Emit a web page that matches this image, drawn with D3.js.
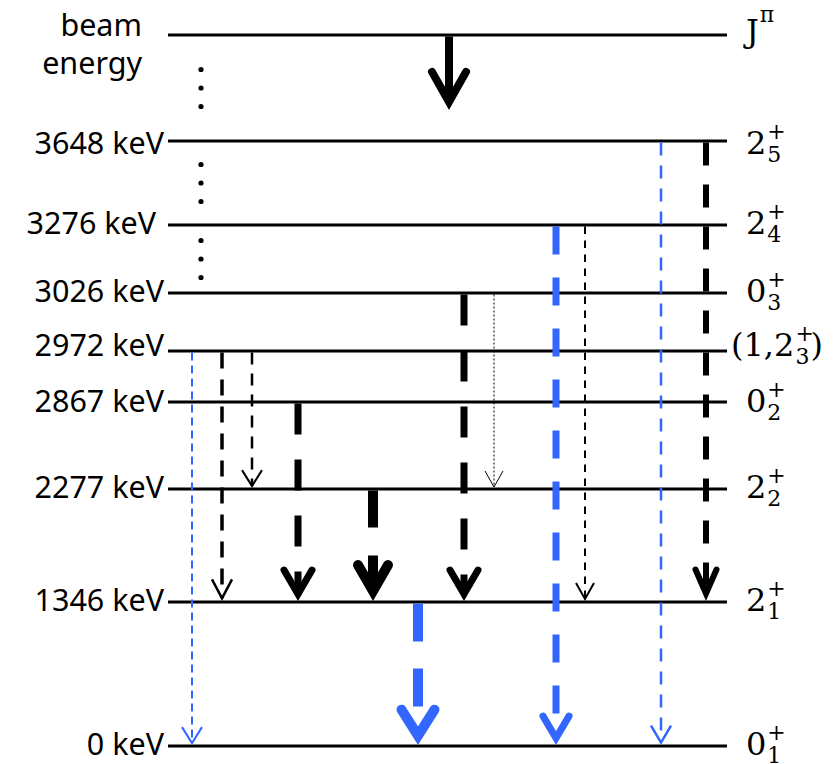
<!DOCTYPE html>
<html>
<head>
<meta charset="utf-8">
<script src="https://cdn.jsdelivr.net/npm/d3@7"></script>
<style>
  html, body { margin: 0; padding: 0; background: #fff; }
  svg { display: block; }
</style>
</head>
<body>
<svg id="chart" width="834" height="764"></svg>
<script>
// ---------------- DATA ----------------
// Levels (top to bottom)
const levelIds    = ["beam", "3648", "3276", "3026", "2972", "2867", "2277", "1346", "0"];
const levelLabels = ["", "3648 keV", "3276 keV\u00a0", "3026 keV", "2972 keV", "2867 keV", "2277 keV", "1346 keV", "0 keV"];
const beamLabel   = ["beam", "energy"];
// Spin-parity labels: prefix+J, superscript, subscript, suffix
const spinMain = ["J", "2", "2", "0", "(1,2", "0", "2", "2", "0"];
const spinSup  = ["\u03c0", "+", "+", "+", "+", "+", "+", "+", "+"];
const spinSub  = ["", "5", "4", "3", "3", "2", "2", "1", "1"];
const spinPost = ["", "", "", "", ")", "", "", "", ""];
// Gaps filled with continuation dots (between consecutive levels)
const dotGaps = [["beam", "3648"], ["3648", "3276"], ["3276", "3026"]];

// Gamma transitions
const transFrom  = ["beam", "3648", "3648", "3276", "3276", "3026", "3026", "2972", "2972", "2972", "2867", "2277", "1346"];
const transTo    = ["3648", "0",    "1346", "0",    "1346", "1346", "2277", "0",    "1346", "2277", "1346", "1346", "0"];
const transColor = ["black","blue", "black","blue", "black","black","black","blue", "black","black","black","black","blue"];

// ---------------- LAYOUT / STYLE ----------------
const W = 834, H = 764;
const lineX0 = 168, lineX1 = 727;
const levelPos = [35, 141, 225, 293, 351, 402, 489, 602, 746];
const labelDy  = [0, 13, 9, 9, 5, 10, 9, 9, 9];
const colors = { black: "#000000", blue: "#3366ff" };

// per-transition: x position, stroke width, dash, head half-width, head length, head stroke
const transX    = [449, 661, 706, 556, 585, 464, 494, 192, 222, 252, 298, 373, 418];
const transW    = [8,   2.5, 6,   7,   2,   7,   1,   2,   3.5, 2.5, 7,   10,  10];
const transDash = [null, "13,10", "23,19", "28,23", "7.5,6.5", "31,25", "2,2", "8,5", "16,11", "12,9", "31,25", "37,28", "38,27"];
const transHW   = [17,  10,  10.5, 13,  9,   14,  9,   10,  10,  10,  14,  15,  16.5];
const transHL   = [30,  17,  24,   22,  16,  24,  16,  16,  19,  16,  24,  26,  26];
const transHS   = [8,   2.5, 6,    7,   2,   7,   1,   2,   2.5, 2,   7,   10,  10];
const beamArrowLen = 75;

// ---------------- DRAW ----------------
const svg = d3.select("#chart");
const y = d3.scaleOrdinal().domain(levelIds).range(levelPos);
const dyOf = d3.scaleOrdinal().domain(levelIds).range(labelDy);

// level lines
svg.append("g").selectAll("line").data(levelIds).join("line")
  .attr("x1", lineX0).attr("x2", lineX1)
  .attr("y1", d => y(d)).attr("y2", d => y(d))
  .attr("stroke", "#000").attr("stroke-width", 3);

// continuation dots
const dots = [];
dotGaps.forEach(([a, b]) => {
  const mid = (y(a) + y(b)) / 2;
  [-18.5, 0, 18.5].forEach(o => dots.push(mid + o));
});
svg.append("g").selectAll("circle").data(dots).join("circle")
  .attr("cx", 201).attr("cy", d => d).attr("r", 2.6).attr("fill", "#000");

// left energy labels
const sansFont = "'Noto Sans', 'Open Sans', sans-serif";
svg.append("g").selectAll("text").data(levelIds.filter(d => d !== "beam")).join("text")
  .attr("x", 164)
  .attr("y", d => y(d) + dyOf(d))
  .attr("text-anchor", "end")
  .attr("font-family", sansFont)
  .attr("font-size", 30.5)
  .attr("fill", "#000")
  .style("white-space", "pre")
  .text(d => levelLabels[levelIds.indexOf(d)]);

// beam energy label
svg.append("g").selectAll("text").data(beamLabel).join("text")
  .attr("x", 142)
  .attr("y", (d, i) => 36 + i * 38)
  .attr("text-anchor", "end")
  .attr("font-family", sansFont)
  .attr("font-size", 30.5)
  .attr("fill", "#000")
  .text(d => d);

// right spin-parity labels
const serifFont = "'DejaVu Serif', serif";
const gR = svg.append("g");
levelIds.forEach((id, i) => {
  const base = id === "beam" ? 42 : y(id) + dyOf(id);
  const x0 = spinMain[i].length > 1 ? 731 : 746;
  const main = gR.append("text")
    .attr("x", x0).attr("y", base)
    .attr("font-family", serifFont).attr("font-size", 32).attr("fill", "#000")
    .text(spinMain[i]);
  const mw = main.node().getComputedTextLength();
  const xs = x0 + mw + 1;
  gR.append("text")
    .attr("x", xs).attr("y", id === "beam" ? base - 20 : base - 15)
    .attr("font-family", serifFont).attr("font-size", 22).attr("fill", "#000")
    .text(spinSup[i]);
  let sw = 0;
  if (spinSub[i]) {
    const sub = gR.append("text")
      .attr("x", xs).attr("y", base + 8)
      .attr("font-family", serifFont).attr("font-size", 22).attr("fill", "#000")
      .text(spinSub[i]);
    sw = sub.node().getComputedTextLength();
  }
  if (spinPost[i]) {
    gR.append("text")
      .attr("x", xs + sw + 1).attr("y", base)
      .attr("font-family", serifFont).attr("font-size", 32).attr("fill", "#000")
      .text(spinPost[i]);
  }
});

// transitions
const gT = svg.append("g");
transFrom.forEach((from, i) => {
  const x = transX[i];
  const col = colors[transColor[i]];
  const y1 = y(from) + 1.5;
  const outerTip = from === "beam" ? y(from) + beamArrowLen : y(transTo[i]) - 1;
  const hw = transHW[i], hl = transHL[i], hs = transHS[i];
  const alpha = Math.atan(hw / hl);
  const tip = outerTip - (hs / 2) / Math.sin(alpha);
  const shaft = gT.append("line")
    .attr("x1", x).attr("x2", x)
    .attr("y1", y1).attr("y2", tip)
    .attr("stroke", col).attr("stroke-width", transW[i]);
  if (transDash[i]) shaft.attr("stroke-dasharray", transDash[i]);
  const p = d3.path();
  p.moveTo(x - hw, tip - hl);
  p.lineTo(x, tip);
  p.lineTo(x + hw, tip - hl);
  gT.append("path")
    .attr("d", p.toString())
    .attr("fill", "none")
    .attr("stroke", col)
    .attr("stroke-width", hs)
    .attr("stroke-linecap", hs >= 5 ? "round" : "butt")
    .attr("stroke-linejoin", "miter");
});
</script>
</body>
</html>
